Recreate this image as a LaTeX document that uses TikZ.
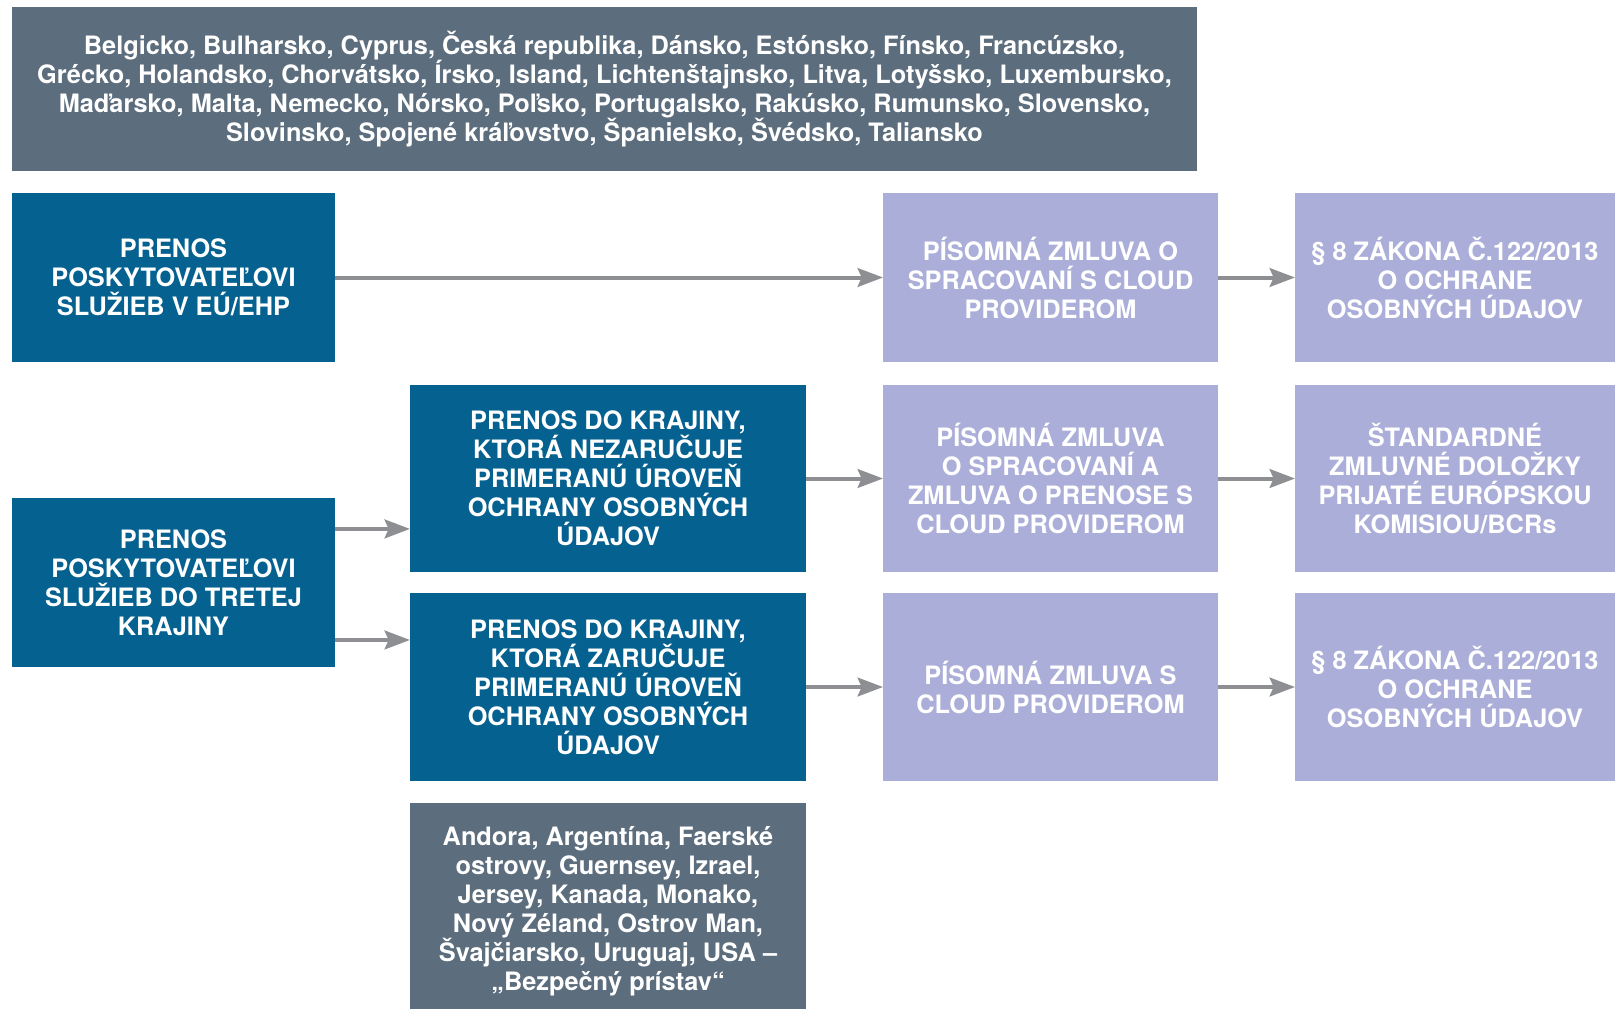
\documentclass[tikz,border=0pt]{standalone}
\usepackage{fontspec}
\setmainfont{TeX Gyre Heros}
\usetikzlibrary{arrows.meta,calc}
\newlength{\du}
\setlength{\du}{0.75pt}
\definecolor{diaslatecolor}{rgb}{0.361000, 0.427000, 0.490000}
\definecolor{diabluecolor}{rgb}{0.020000, 0.380000, 0.561000}
\definecolor{dialilaccolor}{rgb}{0.671000, 0.682000, 0.847000}
\definecolor{diaarrowcolor}{rgb}{0.553000, 0.561000, 0.573000}
\tikzset{
  diabox/.style={inner sep=0pt, outer sep=0pt, align=center, text=white,
    font=\fontsize{19}{21.75}\selectfont\bfseries},
  slatebox/.style={diabox, fill=diaslatecolor},
  bluebox/.style={diabox, fill=diabluecolor},
  lilacbox/.style={diabox, fill=dialilaccolor},
  diaarrow/.style={draw=diaarrowcolor, line width=3pt,
    -{Stealth[length=19pt,width=14pt,inset=3pt]}}
}

\begin{document}
\begin{tikzpicture}
\pgftransformxscale{1.000000}
\pgftransformyscale{-1.000000}
\useasboundingbox (0\du,0\du) rectangle (1615\du,1008\du);
% countries of the EU/EEA
\node[slatebox, minimum width=1185\du, minimum height=164\du] (clenovia) at (604.5\du,89\du){Belgicko, Bulharsko, Cyprus, Česká republika, Dánsko, Estónsko, Fínsko, Francúzsko,\\Grécko, Holandsko, Chorvátsko, Írsko, Island, Lichtenštajnsko, Litva, Lotyšsko, Luxembursko,\\Maďarsko, Malta, Nemecko, Nórsko, Poľsko, Portugalsko, Rakúsko, Rumunsko, Slovensko,\\Slovinsko, Spojené kráľovstvo, Španielsko, Švédsko, Taliansko};
% left column
\node[bluebox, minimum width=323\du, minimum height=169\du] (prenoseu) at (173.5\du,277.5\du){PRENOS\\POSKYTOVATEĽOVI\\SLUŽIEB V EÚ/EHP};
\node[bluebox, minimum width=323\du, minimum height=169\du] (prenostretia) at (173.5\du,582.5\du){PRENOS\\POSKYTOVATEĽOVI\\SLUŽIEB DO TRETEJ\\KRAJINY};
% middle column
\node[bluebox, minimum width=396\du, minimum height=187\du] (nezarucuje) at (608\du,478.5\du){PRENOS DO KRAJINY,\\KTORÁ NEZARUČUJE\\PRIMERANÚ ÚROVEŇ\\OCHRANY OSOBNÝCH\\ÚDAJOV};
\node[bluebox, minimum width=396\du, minimum height=188\du] (zarucuje) at (608\du,687\du){PRENOS DO KRAJINY,\\KTORÁ ZARUČUJE\\PRIMERANÚ ÚROVEŇ\\OCHRANY OSOBNÝCH\\ÚDAJOV};
\node[slatebox, minimum width=396\du, minimum height=216\du] (bezpecne) at (608\du,911\du){Andora, Argentína, Faerské\\ostrovy, Guernsey, Izrael,\\Jersey, Kanada, Monako,\\Nový Zéland, Ostrov Man,\\Švajčiarsko, Uruguaj, USA –\\„Bezpečný prístav“};
% contracts
\node[lilacbox, minimum width=335\du, minimum height=169\du] (zmluvaeu) at (1050.5\du,277.5\du){PÍSOMNÁ ZMLUVA O\\SPRACOVANÍ S CLOUD\\PROVIDEROM};
\node[lilacbox, minimum width=335\du, minimum height=187\du] (zmluvaprenos) at (1050.5\du,478.5\du){PÍSOMNÁ ZMLUVA\\O SPRACOVANÍ A\\ZMLUVA O PRENOSE S\\CLOUD PROVIDEROM};
\node[lilacbox, minimum width=335\du, minimum height=188\du] (zmluvacloud) at (1050.5\du,687\du){PÍSOMNÁ ZMLUVA S\\CLOUD PROVIDEROM};
% legal basis
\node[lilacbox, minimum width=320\du, minimum height=169\du] (zakoneu) at (1455\du,277.5\du){§ 8 ZÁKONA Č.122/2013\\O OCHRANE\\OSOBNÝCH ÚDAJOV};
\node[lilacbox, minimum width=320\du, minimum height=187\du] (dolozky) at (1455\du,478.5\du){ŠTANDARDNÉ\\ZMLUVNÉ DOLOŽKY\\PRIJATÉ EURÓPSKOU\\KOMISIOU/BCRs};
\node[lilacbox, minimum width=320\du, minimum height=188\du] (zakon) at (1455\du,687\du){§ 8 ZÁKONA Č.122/2013\\O OCHRANE\\OSOBNÝCH ÚDAJOV};
% was here!!!
\coordinate (tretiahore) at ($(prenostretia.north east)!0.183!(prenostretia.south east)$);
\coordinate (tretiadole) at ($(prenostretia.north east)!0.840!(prenostretia.south east)$);
\draw[diaarrow] (prenoseu) -- (zmluvaeu);
\draw[diaarrow] (zmluvaeu) -- (zakoneu);
\draw[diaarrow] (tretiahore) -- (tretiahore -| nezarucuje.west);
\draw[diaarrow] (tretiadole) -- (tretiadole -| zarucuje.west);
\draw[diaarrow] (nezarucuje) -- (zmluvaprenos);
\draw[diaarrow] (zmluvaprenos) -- (dolozky);
\draw[diaarrow] (zarucuje) -- (zmluvacloud);
\draw[diaarrow] (zmluvacloud) -- (zakon);
\end{tikzpicture}
\end{document}
